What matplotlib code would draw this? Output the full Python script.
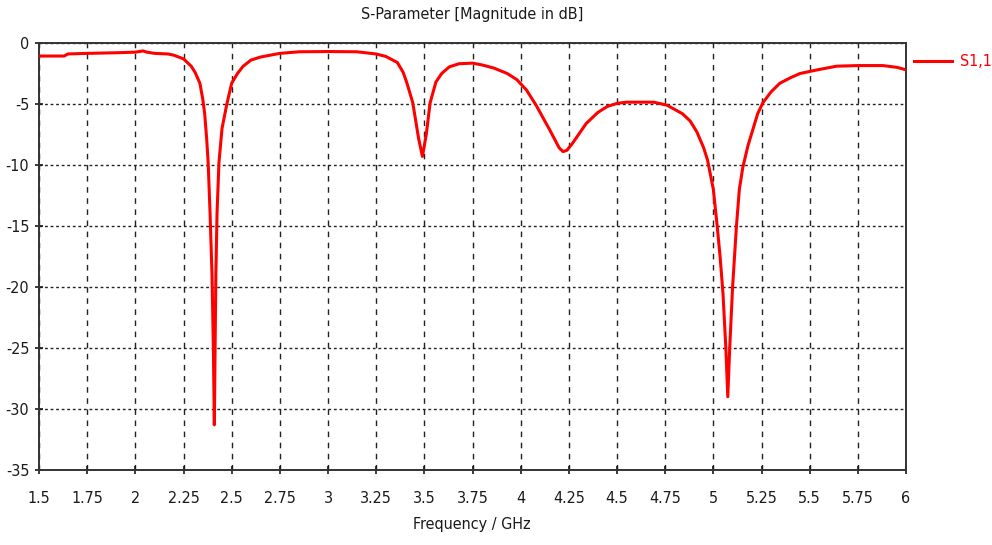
import matplotlib
matplotlib.use("Agg")
import matplotlib.pyplot as plt

# S1,1 magnitude (dB) versus frequency (GHz)
freq_ghz = [1.5, 1.63, 1.65, 1.75, 1.9, 2.0, 2.04, 2.06, 2.1, 2.17, 2.2, 2.25, 2.29, 2.31,
            2.335, 2.35, 2.36, 2.37, 2.378, 2.388, 2.398, 2.405, 2.41, 2.414, 2.418, 2.424,
            2.434, 2.45, 2.475, 2.5, 2.53, 2.56, 2.6, 2.65, 2.7, 2.75, 2.85, 3.0, 3.15, 3.25,
            3.3, 3.36, 3.39, 3.41, 3.44, 3.47, 3.49, 3.51, 3.53, 3.56, 3.59, 3.63, 3.68, 3.75,
            3.8, 3.86, 3.93, 3.98, 4.03, 4.08, 4.15, 4.2, 4.22, 4.24, 4.27, 4.34, 4.4, 4.45,
            4.5, 4.55, 4.69, 4.76, 4.84, 4.88, 4.915, 4.95, 4.97, 4.985, 5.0, 5.02, 5.035,
            5.05, 5.065, 5.075, 5.085, 5.1, 5.12, 5.135, 5.153, 5.18, 5.205, 5.23, 5.257,
            5.3, 5.345, 5.4, 5.45, 5.54, 5.64, 5.75, 5.88, 5.955, 6.0]
s11_db = [-1.07, -1.07, -0.9, -0.85, -0.8, -0.75, -0.65, -0.75, -0.85, -0.9, -1.0, -1.3,
          -1.9, -2.4, -3.3, -4.6, -5.8, -7.8, -9.8, -14, -19, -25, -31.3, -25, -19, -14,
          -9.8, -7.0, -5.0, -3.3, -2.5, -1.9, -1.4, -1.15, -1.0, -0.85, -0.72, -0.7, -0.72,
          -0.9, -1.1, -1.6, -2.4, -3.3, -4.9, -7.8, -9.3, -7.5, -4.9, -3.2, -2.5, -1.95,
          -1.7, -1.65, -1.8, -2.05, -2.5, -3.0, -3.85, -5.1, -7.1, -8.6, -8.9, -8.8, -8.2,
          -6.6, -5.7, -5.2, -4.95, -4.85, -4.85, -5.1, -5.8, -6.4, -7.3, -8.6, -9.6, -10.8,
          -12, -15, -17.5, -20.5, -25, -29, -25, -20, -15, -12, -10.2, -8.4, -7.1, -5.8,
          -4.9, -4.0, -3.3, -2.85, -2.5, -2.2, -1.9, -1.85, -1.85, -2.0, -2.2]

x_ticks = [1.5, 1.75, 2, 2.25, 2.5, 2.75, 3, 3.25, 3.5, 3.75, 4, 4.25, 4.5, 4.75, 5,
           5.25, 5.5, 5.75, 6]
x_tick_labels = ["1.5", "1.75", "2", "2.25", "2.5", "2.75", "3", "3.25", "3.5", "3.75",
                 "4", "4.25", "4.5", "4.75", "5", "5.25", "5.5", "5.75", "6"]
y_ticks = [0, -5, -10, -15, -20, -25, -30, -35]
y_tick_labels = ["0", "-5", "-10", "-15", "-20", "-25", "-30", "-35"]

plt.rcParams["font.family"] = ["DejaVu Sans"]
plt.rcParams["font.stretch"] = "condensed"

FS = 11.5
TXT = "#1a1a1a"

fig = plt.figure(figsize=(9.92, 5.45), dpi=100)
ax = fig.add_axes([39 / 992, 75 / 545, 867 / 992, 427 / 545])

line, = ax.plot(freq_ghz, s11_db, color="#ff0000", lw=2.2, label="S1,1", zorder=3)

ax.set_xlim(1.5, 6)
ax.set_ylim(-35, 0)
ax.set_xticks(x_ticks)
ax.set_xticklabels(x_tick_labels)
ax.set_yticks(y_ticks)
ax.set_yticklabels(y_tick_labels)
ax.tick_params(direction="inout", length=6, width=1.2, labelsize=FS, colors=TXT)
ax.tick_params(axis="x", pad=12)
ax.tick_params(axis="y", pad=4)

for s in ax.spines.values():
    s.set_color("#333333")
    s.set_linewidth(1.4)

ax.xaxis.grid(True, color="#222222", linestyle=(0, (4, 4)), linewidth=1.0)
ax.yaxis.grid(True, color="#222222", linestyle=(0, (2, 2)), linewidth=1.0)
ax.set_axisbelow(True)

fig.text(472 / 992, 1 - 15 / 545, "S-Parameter [Magnitude in dB]", ha="center",
         va="center", fontsize=FS, color=TXT)
fig.text(472 / 992, 1 - 525 / 545, "Frequency / GHz", ha="center", va="center",
         fontsize=FS, color=TXT)

leg = fig.legend(handles=[line], loc="center left", bbox_to_anchor=(914 / 992, 1 - 62 / 545),
                 frameon=False, handlelength=2.4, handletextpad=0.5, fontsize=FS,
                 borderaxespad=0, borderpad=0)
for t in leg.get_texts():
    t.set_color("#ff0000")

fig.savefig("out.png", dpi=100)
